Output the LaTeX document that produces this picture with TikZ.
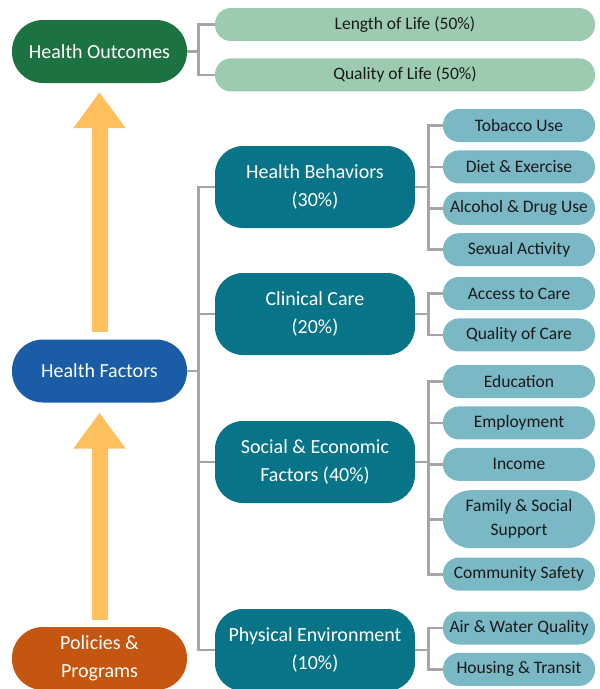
\documentclass[tikz,border=0pt]{standalone}
\usepackage{fontspec}
\setmainfont{Carlito}
\usetikzlibrary{positioning,arrows.meta}
\definecolor{outgreen}{HTML}{1D7241}
\definecolor{lightgreen}{HTML}{9CCBAF}
\definecolor{factorblue}{HTML}{1B5CA7}
\definecolor{policyorange}{HTML}{C4560F}
\definecolor{factorteal}{HTML}{077487}
\definecolor{itemteal}{HTML}{79B8C4}
\definecolor{conngray}{HTML}{A6A6A6}
\definecolor{arrowyellow}{HTML}{FFBF5C}
\definecolor{textdark}{HTML}{1A1A1A}

\begin{document}
\begin{tikzpicture}[x=1pt, y=-1pt,
boxtext/.style={inner sep=0pt, align=center, text=white, font=\fontsize{20}{28}\selectfont},
mainbox/.style={boxtext, minimum width=175pt, minimum height=63pt, rounded corners=31pt},
factor/.style={boxtext, fill=factorteal, minimum width=200pt, minimum height=82pt, rounded corners=28pt},
outcome/.style={boxtext, fill=lightgreen, text=textdark, minimum width=380pt, minimum height=33pt, rounded corners=16pt, font=\fontsize{17.5}{24}\selectfont},
subbox/.style={outcome, fill=itemteal, minimum width=152pt},
conn/.style={draw=conngray, line width=2.8pt},
bigarrow/.style={draw=arrowyellow, line width=16pt, -{Triangle[width=50pt, length=36pt]}}
]
\useasboundingbox (0,0) rectangle (600,689);
%Left column
\node[mainbox, fill=outgreen]     (ho) at (99.5,51.5)  {Health Outcomes};
\node[mainbox, fill=factorblue]   (hf) at (99.5,371)   {Health Factors};
\node[mainbox, fill=policyorange] (pp) at (99.5,658.5) {Policies \&\\Programs};
%Outcomes
\node[outcome]                    (len) at (405,24.5)  {Length of Life (50\%)};
\node[outcome, below=17pt of len] (qol)                {Quality of Life (50\%)};
%Factors
\node[factor] (hb) at (315,187) {Health Behaviors\\(30\%)};
\node[factor] (cc) at (315,314) {Clinical Care\\(20\%)};
\node[factor] (se) at (315,462) {Social \& Economic\\Factors (40\%)};
\node[factor] (pe) at (315,650) {Physical Environment\\(10\%)};
%Behaviors
\node[subbox]                   (tob)  at (519,125.5) {Tobacco Use};
\node[subbox, below=8pt of tob]  (diet)               {Diet \& Exercise};
\node[subbox, below=8pt of diet] (alc)                {Alcohol \& Drug Use};
\node[subbox, below=8pt of alc]  (sex)                {Sexual Activity};
%Clinical care
\node[subbox]                   (acc)  at (519,293.5) {Access to Care};
\node[subbox, below=8pt of acc]  (qoc)                {Quality of Care};
%Social and economic
\node[subbox]                   (edu)  at (519,381.5) {Education};
\node[subbox, below=8pt of edu]  (emp)                {Employment};
\node[subbox, below=8pt of emp]  (inc)                {Income};
\node[subbox, below=9pt of inc, minimum height=58pt, rounded corners=28pt] (fam) {Family \& Social\\Support};
\node[subbox, below=9pt of fam]  (com)                {Community Safety};
%Physical environment
\node[subbox]                   (air)  at (519,628)   {Air \& Water Quality};
\node[subbox, below=8pt of air]  (hou)                {Housing \& Transit};
%Arrows
\draw[bigarrow, shorten <=7.5pt, shorten >=9pt]  (hf.north) -- (ho.south);
\draw[bigarrow, shorten <=7pt,   shorten >=10pt] (pp.north) -- (hf.south);
%Lines
\draw[conn] (ho.east) -- ++(11,0) coordinate (hoj);
\foreach \o in {len,qol} \draw[conn] (hoj) |- (\o.west);
\draw[conn] (hf.east) -- ++(11,0) coordinate (hfj);
\foreach \f in {hb,cc,se,pe} \draw[conn] (hfj) |- (\f.west);
\draw[conn] (hb.east) -- ++(13,0) coordinate (hbj);
\foreach \s in {tob,diet,alc,sex} \draw[conn] (hbj) |- (\s.west);
\draw[conn] (cc.east) -- ++(13,0) coordinate (ccj);
\foreach \s in {acc,qoc} \draw[conn] (ccj) |- (\s.west);
\draw[conn] (se.east) -- ++(13,0) coordinate (sej);
\foreach \s in {edu,emp,inc,fam,com} \draw[conn] (sej) |- (\s.west);
\draw[conn] (pe.east) -- ++(13,0) coordinate (pej);
\foreach \s in {air,hou} \draw[conn] (pej) |- (\s.west);
\end{tikzpicture}
\end{document}
